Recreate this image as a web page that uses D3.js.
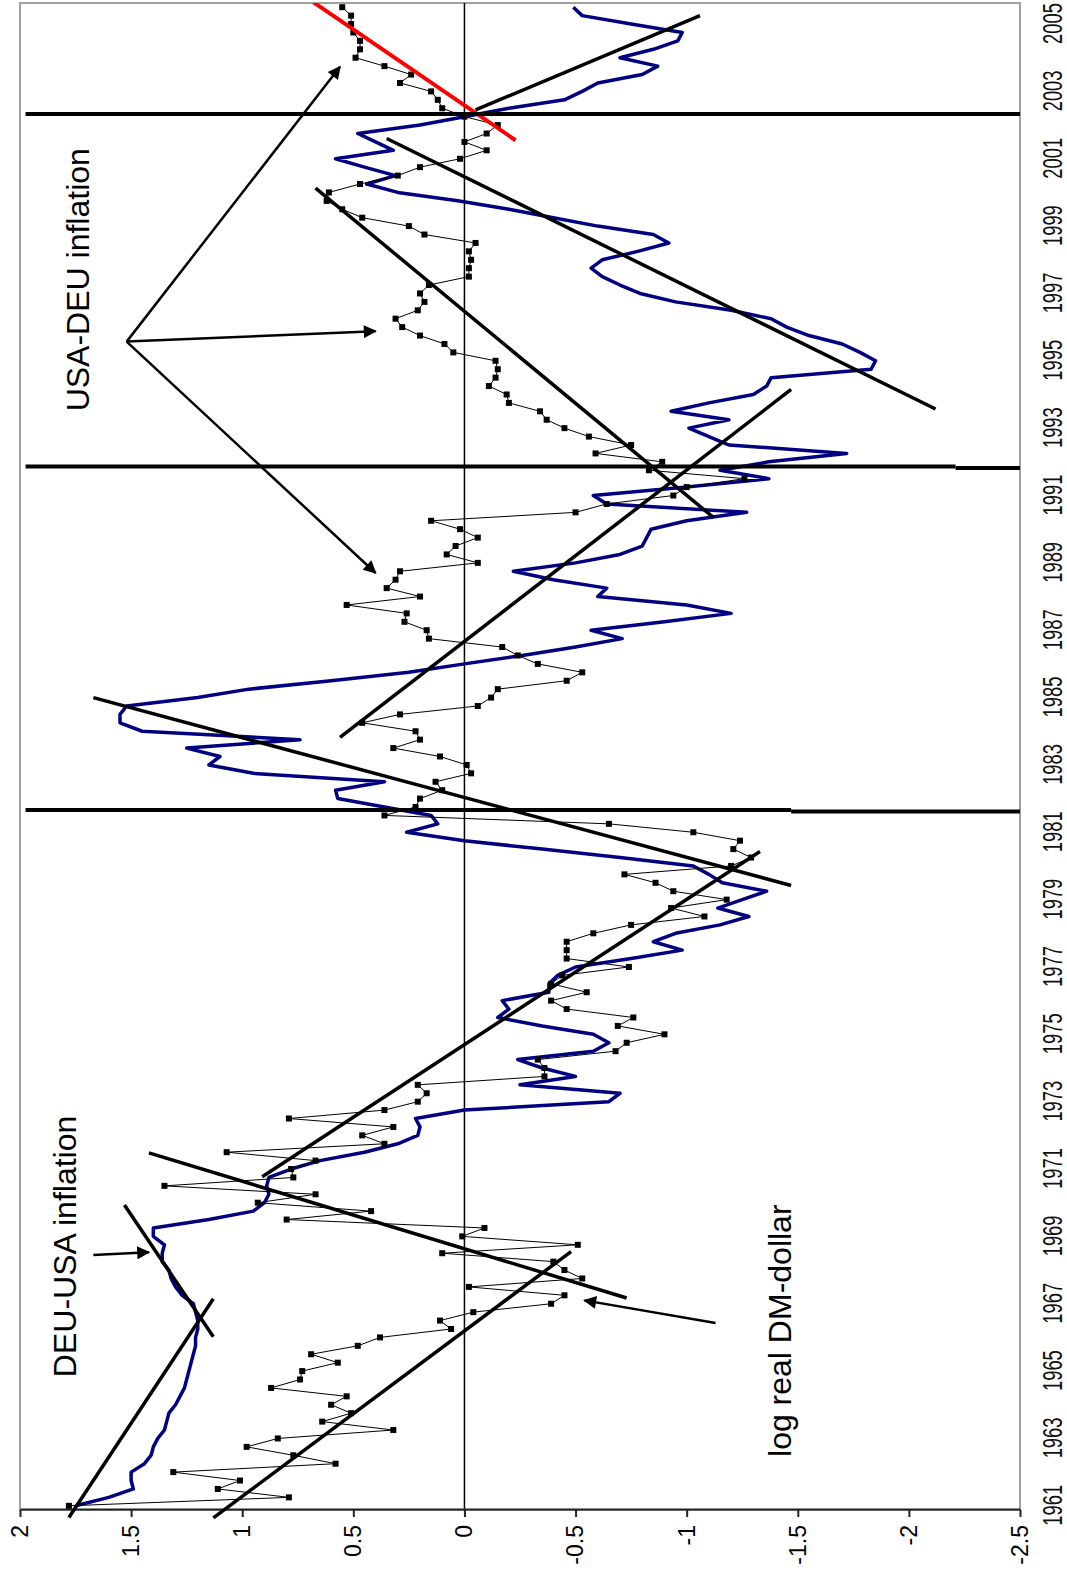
<!DOCTYPE html>
<html>
<head>
<meta charset="utf-8">
<script src="https://cdn.jsdelivr.net/npm/d3@7"></script>
<style>
  body { margin: 0; background: #fff; }
  svg { display: block; }
  .lbl { font-family: "Liberation Sans", Arial, sans-serif; }
</style>
</head>
<body>
<div id="chart"></div>
<script>
// chart is drawn in its original landscape frame, then turned a quarter turn
var W = 1067, H = 1584;
var startYear = 1961;   // first quarter 1961Q1, one value per quarter

// log real DM-dollar rate (black squares), quarterly
var dmDollar = [
  1.78,0.79,1.11,1.01,1.31,0.58,0.77,0.98,0.84,0.32,
  0.64,0.51,0.60,0.53,0.87,0.74,0.73,0.57,0.69,0.48,
  0.38,0.06,0.11,-0.04,-0.39,-0.45,-0.02,-0.53,-0.45,-0.40,
  0.10,-0.51,0.01,-0.09,0.80,0.42,0.93,0.67,1.35,0.77,
  0.78,0.67,1.07,0.36,0.46,0.32,0.79,0.36,0.21,0.17,
  0.21,-0.36,-0.36,-0.33,-0.68,-0.73,-0.90,-0.69,-0.76,-0.46,
  -0.39,-0.55,-0.39,-0.44,-0.74,-0.46,-0.46,-0.46,-0.58,-0.75,
  -1.08,-0.93,-1.18,-0.94,-0.86,-0.72,-1.20,-1.29,-1.21,-1.24,
  -1.03,-0.65,0.36,0.22,0.20,0.10,0.13,-0.03,-0.01,0.11,
  0.32,0.20,0.22,0.46,0.29,-0.06,-0.12,-0.15,-0.46,-0.53,
  -0.33,-0.24,-0.17,0.16,0.17,0.27,0.26,0.53,0.20,0.35,
  0.31,0.29,-0.06,0.08,0.04,-0.06,0.02,0.15,-0.50,-0.64,
  -0.94,-1.00,-1.26,-0.83,-0.89,-0.59,-0.75,-0.56,-0.45,-0.37,
  -0.34,-0.20,-0.19,-0.11,-0.14,-0.15,-0.14,0.05,0.09,0.20,
  0.28,0.31,0.21,0.18,0.20,0.16,-0.02,-0.02,-0.03,-0.02,
  -0.05,0.18,0.25,0.46,0.55,0.62,0.61,0.47,0.30,0.20,
  0.02,-0.10,0.00,-0.10,-0.15,0.00,0.10,0.12,0.15,0.29,
  0.24,0.36,0.49,0.47,0.47,0.50,0.51,0.51,0.55
];

// cumulated DEU-USA inflation (blue line), quarterly
var inflDiff = [
  1.75,1.60,1.49,1.50,1.50,1.44,1.41,1.40,1.38,1.35,
  1.34,1.33,1.30,1.28,1.26,1.25,1.24,1.23,1.22,1.21,
  1.21,1.20,1.20,1.21,1.22,1.27,1.30,1.32,1.33,1.36,
  1.36,1.35,1.40,1.40,1.15,0.95,0.90,0.88,0.89,0.88,
  0.78,0.65,0.45,0.30,0.21,0.20,0.22,0.00,-0.65,-0.70,
  -0.25,-0.50,-0.35,-0.24,-0.58,-0.65,-0.58,-0.35,-0.15,-0.20,
  -0.17,-0.38,-0.38,-0.42,-0.50,-0.75,-0.98,-0.85,-0.95,-1.15,
  -1.28,-1.14,-1.25,-1.36,-1.16,-1.10,-1.03,-0.70,-0.35,0.00,
  0.26,0.12,0.15,0.36,0.57,0.58,0.36,0.95,1.15,1.10,
  1.25,0.74,1.45,1.55,1.55,1.52,1.20,0.97,0.60,0.25,
  0.00,-0.26,-0.50,-0.71,-0.57,-0.90,-1.20,-1.00,-0.60,-0.64,
  -0.40,-0.22,-0.50,-0.70,-0.80,-0.82,-0.84,-1.00,-1.27,-0.64,
  -0.58,-1.00,-1.37,-1.15,-1.37,-1.72,-1.19,-1.10,-1.01,-1.19,
  -0.93,-1.10,-1.30,-1.36,-1.38,-1.83,-1.85,-1.78,-1.70,-1.55,
  -1.45,-1.38,-1.20,-0.95,-0.79,-0.70,-0.62,-0.57,-0.62,-0.78,
  -0.92,-0.85,-0.60,-0.40,-0.20,0.03,0.30,0.44,0.31,0.45,
  0.58,0.32,0.40,0.48,0.20,0.00,-0.20,-0.45,-0.53,-0.60,
  -0.80,-0.87,-0.70,-0.85,-0.96,-0.98,-0.75,-0.53,-0.49
];

var yearLabels = d3.range(1961, 2006, 2);
var valueTicks = [2, 1.5, 1, 0.5, 0, -0.5, -1, -1.5, -2, -2.5];

// regime breaks (thick vertical lines in the original frame);
// each is drawn in two pieces that meet at a small jog, as in the original
var breakLines = [
  { year: 1981.66, jogAt: -1.47, jogYear: 1981.62 },
  { year: 1991.86, jogAt: -2.21, jogYear: 1991.82 },
  { year: 2002.33, jogAt: -2.5, jogYear: 2002.33 }
];

// hand drawn trend lines: [[year, value], [year, value]]
var trendLines = [
  [[1960.65, 1.78], [1967.15, 1.13]],
  [[1966.02, 1.13], [1969.93, 1.53]],
  [[1960.64, 1.13], [1968.55, -0.48]],
  [[1967.17, -0.73], [1971.48, 1.42]],
  [[1970.77, 0.91], [1980.43, -1.33]],
  [[1979.42, -1.47], [1985.00, 1.67]],
  [[1983.82, 0.56], [1994.15, -1.47]],
  [[1990.35, -1.12], [2000.13, 0.67]],
  [[1993.57, -2.12], [2001.60, 0.35]],
  [[2002.45, -0.05], [2005.25, -1.06]]
];
var redTrend = [[2001.55, -0.23], [2005.65, 0.68]];

// arrows: [from, to] as [year, value]
var arrows = [
  [[1968.45, 1.67], [1968.53, 1.42]],
  [[1966.43, -1.13], [1967.10, -0.54]],
  [[1995.57, 1.52], [2003.73, 0.56]],
  [[1995.57, 1.52], [1995.88, 0.40]],
  [[1995.57, 1.52], [1988.70, 0.40]]
];

var notes = [
  { text: "DEU-USA inflation", at: [1964.82, 1.75] },
  { text: "USA-DEU inflation", at: [1993.50, 1.69] },
  { text: "log real DM-dollar", at: [1962.45, -1.47] }
];

var svg = d3.select("#chart").append("svg")
  .attr("width", W)
  .attr("height", H);

// quarter turn: original x (time) runs up the page, original y (value) runs left to right
var g = svg.append("g").attr("transform", "translate(0," + H + ") rotate(-90)");

var x = d3.scaleLinear().domain([1960.875, 2005.625]).range([74, 1581]);
var y = d3.scaleLinear().domain([2, -2.5]).range([20, 1020]);
var qt = function(i) { return startYear + i / 4; };

var defs = svg.append("defs");
defs.append("clipPath").attr("id", "plotclip")
  .append("rect")
  .attr("x", x.range()[0]).attr("y", y.range()[0])
  .attr("width", x.range()[1] - x.range()[0])
  .attr("height", y.range()[1] - y.range()[0]);
defs.append("marker")
  .attr("id", "head")
  .attr("viewBox", "0 0 10 10")
  .attr("refX", 9).attr("refY", 5)
  .attr("markerUnits", "userSpaceOnUse")
  .attr("markerWidth", 17).attr("markerHeight", 13)
  .attr("orient", "auto")
  .append("path").attr("d", "M0,0 L10,5 L0,10 Z").attr("fill", "#000");

// plot frame
g.append("rect")
  .attr("x", x.range()[0]).attr("y", y.range()[0])
  .attr("width", x.range()[1] - x.range()[0])
  .attr("height", y.range()[1] - y.range()[0])
  .attr("fill", "none").attr("stroke", "#a0a0a0").attr("stroke-width", 2);

// category axis line at zero
g.append("line")
  .attr("x1", x.range()[0]).attr("x2", x.range()[1])
  .attr("y1", y(0)).attr("y2", y(0))
  .attr("stroke", "#000").attr("stroke-width", 1.5);

// value axis
var yAxis = g.append("g")
  .attr("transform", "translate(" + x.range()[0] + ",0)")
  .call(d3.axisLeft(y).tickValues(valueTicks).tickSize(7).tickSizeOuter(0).tickPadding(8).tickFormat(String));
yAxis.select(".domain").attr("stroke", "#222").attr("stroke-width", 2);
yAxis.selectAll(".tick line").attr("stroke", "#222").attr("stroke-width", 2);
yAxis.selectAll("text").attr("class", "lbl").style("font-size", "23px").attr("fill", "#000");

// year labels along the far edge, squeezed to the narrow face of the original
var xAxis = g.append("g")
  .attr("transform", "translate(0," + y.range()[1] + ")")
  .call(d3.axisBottom(x).tickValues(yearLabels).tickSize(0).tickPadding(23).tickFormat(d3.format("d")));
xAxis.select(".domain").remove();
xAxis.selectAll("text")
  .style("font-family", "'Liberation Sans', Arial, sans-serif")
  .style("font-size", "27px").attr("fill", "#111")
  .attr("transform", "scale(0.68,1)");

var plot = g.append("g").attr("clip-path", "url(#plotclip)");

// blue: inflation differential
plot.append("path")
  .datum(inflDiff)
  .attr("d", d3.line().x(function(d, i) { return x(qt(i)); }).y(function(d) { return y(d); }))
  .attr("fill", "none").attr("stroke", "#000080").attr("stroke-width", 3.5)
  .attr("stroke-linejoin", "round");

// black: log real DM-dollar with square markers
plot.append("path")
  .datum(dmDollar)
  .attr("d", d3.line().x(function(d, i) { return x(qt(i)); }).y(function(d) { return y(d); }))
  .attr("fill", "none").attr("stroke", "#000").attr("stroke-width", 1);
plot.selectAll("rect.mk")
  .data(dmDollar)
  .enter().append("rect")
  .attr("class", "mk")
  .attr("x", function(d, i) { return x(qt(i)) - 3; })
  .attr("y", function(d) { return y(d) - 3; })
  .attr("width", 6).attr("height", 6)
  .attr("fill", "#000");

// trend lines
g.selectAll("line.trend")
  .data(trendLines)
  .enter().append("line")
  .attr("class", "trend")
  .attr("x1", function(d) { return x(d[0][0]); }).attr("y1", function(d) { return y(d[0][1]); })
  .attr("x2", function(d) { return x(d[1][0]); }).attr("y2", function(d) { return y(d[1][1]); })
  .attr("stroke", "#000").attr("stroke-width", 3.5);

plot.append("line")
  .attr("x1", x(redTrend[0][0])).attr("y1", y(redTrend[0][1]))
  .attr("x2", x(redTrend[1][0])).attr("y2", y(redTrend[1][1]))
  .attr("stroke", "#ff0000").attr("stroke-width", 4);

// regime breaks
var brk = g.selectAll("g.brk").data(breakLines).enter().append("g").attr("class", "brk");
brk.append("line")
  .attr("x1", function(d) { return x(d.year); }).attr("x2", function(d) { return x(d.year); })
  .attr("y1", y(1.975)).attr("y2", function(d) { return y(d.jogAt); })
  .attr("stroke", "#000").attr("stroke-width", 4);
brk.append("line")
  .attr("x1", function(d) { return x(d.jogYear); }).attr("x2", function(d) { return x(d.jogYear); })
  .attr("y1", function(d) { return y(d.jogAt); }).attr("y2", y.range()[1])
  .attr("stroke", "#000").attr("stroke-width", 4);

// arrows
g.selectAll("line.arr")
  .data(arrows)
  .enter().append("line")
  .attr("class", "arr")
  .attr("x1", function(d) { return x(d[0][0]); }).attr("y1", function(d) { return y(d[0][1]); })
  .attr("x2", function(d) { return x(d[1][0]); }).attr("y2", function(d) { return y(d[1][1]); })
  .attr("stroke", "#000").attr("stroke-width", 2.5)
  .attr("marker-end", "url(#head)");

// annotations
g.selectAll("text.note")
  .data(notes)
  .enter().append("text")
  .attr("class", "note lbl")
  .attr("x", function(d) { return x(d.at[0]); })
  .attr("y", function(d) { return y(d.at[1]); })
  .style("font-size", "32px")
  .attr("fill", "#000")
  .text(function(d) { return d.text; });
</script>
</body>
</html>
